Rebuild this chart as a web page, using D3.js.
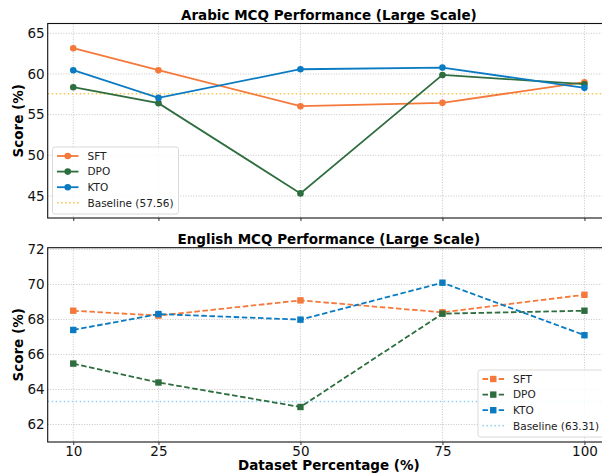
<!DOCTYPE html>
<html>
<head>
<meta charset="utf-8">
<script src="https://cdn.jsdelivr.net/npm/d3@7"></script>
<style>
  body { margin: 0; background: #fff; }
  svg { display: block; font-family: "DejaVu Sans", sans-serif; }
</style>
</head>
<body>
<div id="chart"></div>
<script>

// data
var percentages = [10, 25, 50, 75, 100];
var methods = ["SFT", "DPO", "KTO"];

var arabicSFT = [63.16, 60.46, 56.04, 56.45, 58.99];
var arabicDPO = [58.37, 56.41, 45.32, 59.88, 58.74];
var arabicKTO = [60.46, 57.06, 60.58, 60.78, 58.29];
var arabicBaseline = 57.56;

var englishSFT = [68.50, 68.22, 69.09, 68.41, 69.41];
var englishDPO = [65.48, 64.40, 63.00, 68.33, 68.50];
var englishKTO = [67.40, 68.31, 67.99, 70.10, 67.10];
var englishBaseline = 63.31;

var arabicTicks = [45, 50, 55, 60, 65];
var englishTicks = [62, 64, 66, 68, 70, 72];

var colors = { SFT: "#f4793b", DPO: "#2e6e3e", KTO: "#0a7bc2" };

var width = 602;
var height = 475;

var svg = d3.select("#chart").append("svg")
  .attr("width", width)
  .attr("height", height);

var xScale = d3.scaleLinear().domain([5.5, 104.5]).range([47.7, 610]);

function panel(opts) {
  var yScale = d3.scaleLinear().domain(opts.yDomain).range([opts.bottom, opts.top]);
  var g = svg.append("g");

  // grid
  g.append("g").selectAll("line").data(percentages).enter().append("line")
    .attr("x1", function(d) { return xScale(d); })
    .attr("x2", function(d) { return xScale(d); })
    .attr("y1", opts.top).attr("y2", opts.bottom)
    .attr("stroke", "#b5b5b5").attr("stroke-width", 0.8)
    .attr("stroke-dasharray", "1,1.6");
  g.append("g").selectAll("line").data(opts.ticks).enter().append("line")
    .attr("x1", xScale.range()[0]).attr("x2", xScale.range()[1])
    .attr("y1", function(d) { return yScale(d); })
    .attr("y2", function(d) { return yScale(d); })
    .attr("stroke", "#b5b5b5").attr("stroke-width", 0.8)
    .attr("stroke-dasharray", "1,1.6");

  // baseline
  g.append("line")
    .attr("x1", xScale.range()[0]).attr("x2", xScale.range()[1])
    .attr("y1", yScale(opts.baseline)).attr("y2", yScale(opts.baseline))
    .attr("stroke", opts.baseColor).attr("stroke-width", 1.5)
    .attr("stroke-dasharray", "1.5,2.5");

  var line = d3.line()
    .x(function(d, i) { return xScale(percentages[i]); })
    .y(function(d) { return yScale(d); });

  methods.forEach(function(m) {
    var vals = opts.series[m];
    g.append("path")
      .datum(vals)
      .attr("d", line)
      .attr("fill", "none")
      .attr("stroke", colors[m])
      .attr("stroke-width", 1.8)
      .attr("stroke-dasharray", opts.dashed ? "5.5,2.6" : null);
    if (opts.square) {
      g.append("g").selectAll("rect").data(vals).enter().append("rect")
        .attr("x", function(d, i) { return xScale(percentages[i]) - 3.2; })
        .attr("y", function(d) { return yScale(d) - 3.2; })
        .attr("width", 6.4).attr("height", 6.4)
        .attr("fill", colors[m]);
    } else {
      g.append("g").selectAll("circle").data(vals).enter().append("circle")
        .attr("cx", function(d, i) { return xScale(percentages[i]); })
        .attr("cy", function(d) { return yScale(d); })
        .attr("r", 3.3)
        .attr("fill", colors[m]);
    }
  });

  // axes
  var yAxis = g.append("g")
    .attr("transform", "translate(" + xScale.range()[0] + ",0)")
    .call(d3.axisLeft(yScale).tickValues(opts.ticks).tickSize(0).tickPadding(3));
  yAxis.select(".domain").remove();
  yAxis.selectAll("text").attr("font-size", 13.5).attr("fill", "#111").attr("font-family", "DejaVu Sans");

  var xAxis = g.append("g")
    .attr("transform", "translate(0," + opts.bottom + ")")
    .call(d3.axisBottom(xScale).tickValues(percentages).tickSize(3).tickPadding(1.5));
  xAxis.select(".domain").remove();
  xAxis.selectAll("line").attr("stroke", "#333");
  xAxis.selectAll("text").attr("font-size", 13.5).attr("fill", "#111").attr("font-family", "DejaVu Sans");
  if (!opts.xLabels) xAxis.selectAll("text").remove();

  // spines
  g.append("rect")
    .attr("x", xScale.range()[0]).attr("y", opts.top)
    .attr("width", xScale.range()[1] - xScale.range()[0])
    .attr("height", opts.bottom - opts.top)
    .attr("fill", "none").attr("stroke", "#111").attr("stroke-width", 1.1);

  // title and y label
  g.append("text")
    .attr("x", (xScale.range()[0] + xScale.range()[1]) / 2)
    .attr("y", opts.top - 4)
    .attr("text-anchor", "middle")
    .attr("font-size", 13.5).attr("font-weight", "bold")
    .text(opts.title);

  g.append("text")
    .attr("transform", "translate(23," + (opts.top + opts.bottom) / 2 + ") rotate(-90)")
    .attr("text-anchor", "middle")
    .attr("font-size", 13.5).attr("font-weight", "bold")
    .text("Score (%)");

  // legend
  var lg = g.append("g").attr("transform", "translate(" + opts.legend[0] + "," + opts.legend[1] + ")");
  lg.append("rect")
    .attr("x", 0).attr("y", 0).attr("width", 126).attr("height", 67)
    .attr("rx", 2.5)
    .attr("fill", "#fff").attr("fill-opacity", 0.85)
    .attr("stroke", "#d0d0d0").attr("stroke-width", 0.8);
  var items = methods.map(function(m) { return { label: m, color: colors[m], kind: "series" }; });
  items.push({ label: opts.baseLabel, color: opts.baseColor, kind: "base" });
  items.forEach(function(it, i) {
    var y = 9 + i * 15.6;
    var row = lg.append("g").attr("transform", "translate(0," + y + ")");
    if (it.kind === "series") {
      row.append("line").attr("x1", 4.5).attr("x2", 26)
        .attr("stroke", it.color).attr("stroke-width", 1.8)
        .attr("stroke-dasharray", opts.dashed ? "5.5,2.6" : null);
      if (opts.square) {
        row.append("rect").attr("x", 15.25 - 3.2).attr("y", -3.2).attr("width", 6.4).attr("height", 6.4).attr("fill", it.color);
      } else {
        row.append("circle").attr("cx", 15.25).attr("cy", 0).attr("r", 3.3).attr("fill", it.color);
      }
    } else {
      row.append("line").attr("x1", 4.5).attr("x2", 26)
        .attr("stroke", it.color).attr("stroke-width", 1.5)
        .attr("stroke-dasharray", "1.5,2.5");
    }
    row.append("text").attr("x", 35).attr("y", 0).attr("dy", "0.36em")
      .attr("font-size", 10.5).attr("fill", "#222")
      .text(it.label);
  });
}

panel({
  title: "Arabic MCQ Performance (Large Scale)",
  top: 23.5, bottom: 218,
  yDomain: [42.3, 66.2],
  ticks: arabicTicks,
  series: { SFT: arabicSFT, DPO: arabicDPO, KTO: arabicKTO },
  baseline: arabicBaseline,
  baseLabel: "Baseline (" + arabicBaseline.toFixed(2) + ")",
  baseColor: "#f6c54c",
  dashed: false, square: false, xLabels: false,
  legend: [52.5, 147]
});

panel({
  title: "English MCQ Performance (Large Scale)",
  top: 247.7, bottom: 442,
  yDomain: [61.0, 72.1],
  ticks: englishTicks,
  series: { SFT: englishSFT, DPO: englishDPO, KTO: englishKTO },
  baseline: englishBaseline,
  baseLabel: "Baseline (" + englishBaseline.toFixed(2) + ")",
  baseColor: "#8fd3f5",
  dashed: true, square: true, xLabels: true,
  legend: [478, 370]
});

svg.append("text")
  .attr("x", (xScale.range()[0] + xScale.range()[1]) / 2)
  .attr("y", 469.5)
  .attr("text-anchor", "middle")
  .attr("font-size", 13.5).attr("font-weight", "bold")
  .text("Dataset Percentage (%)");

</script>
</body>
</html>
